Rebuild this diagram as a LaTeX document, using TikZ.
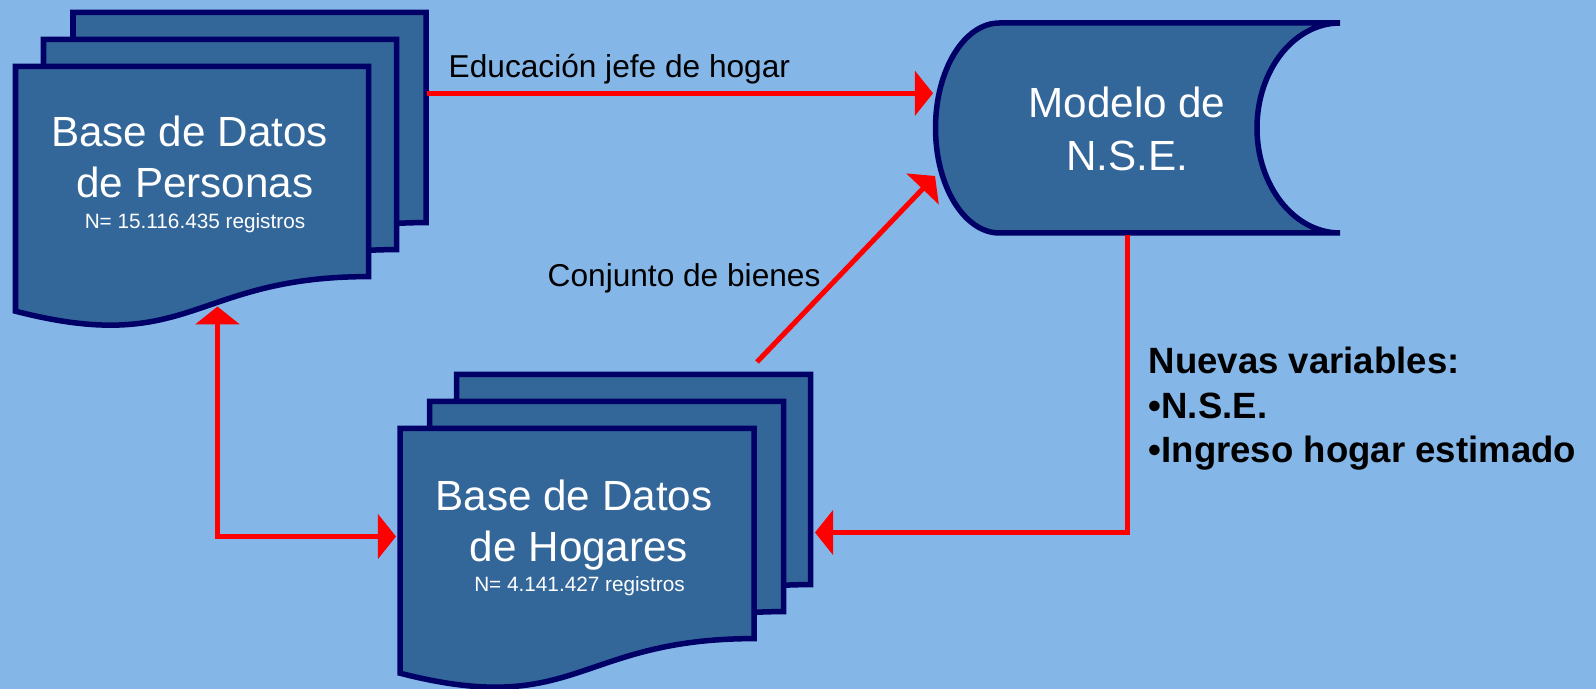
\documentclass[tikz,border=0pt]{standalone}
\usepackage{fontspec}
\setmainfont{Liberation Sans}
\usepackage{tikz}
\usetikzlibrary{arrows.meta}
\definecolor{bgblue}{RGB}{133,182,232}
\definecolor{sheetblue}{RGB}{51,102,153}
\definecolor{sheetline}{RGB}{0,0,102}
\tikzset{
  sheet/.style={draw=sheetline, fill=sheetblue, line width=0.055cm},
  redarrow/.style={draw=red, line width=0.05cm},
  redtip/.style={-{Triangle[length=0.18cm,width=0.44cm]}},
  bigtext/.style={text=white, font=\fontsize{12}{14.5}\selectfont, inner sep=0pt, anchor=base},
  smalltext/.style={text=white, font=\fontsize{5.9}{7}\selectfont, inner sep=0pt, anchor=base},
  flowtext/.style={text=black, font=\fontsize{9}{11}\selectfont, inner sep=0pt, anchor=base west},
  newvartext/.style={text=black, font=\fontsize{10.4}{12.7}\selectfont\bfseries, inner sep=0pt, anchor=base west}
}
% one sheet of a document stack: x, y of top left, width, height
\newcommand{\docsheet}[4]{ \draw[sheet] (#1,#2) -- ({#1+#3},#2) -- ({#1+#3},{#2+0.802*#4}) .. controls ({#1+0.5*#3},{#2+0.802*#4}) and ({#1+0.5*#3},{#2+1.1075*#4}) .. (#1,{#2+0.934*#4}) -- cycle;}

\begin{document}
\begin{tikzpicture}[x=0.01cm, y=-0.01cm]
        \useasboundingbox (0,0) rectangle (1596,689);
        \fill[bgblue] (0,0) rectangle (1596,689);
        % stack personas
        \docsheet{73}{12.5}{353}{262}
        \docsheet{43.5}{39.5}{353}{262}
        \docsheet{15.5}{66.5}{353}{262}
        % stack hogares
        \docsheet{456.5}{374.5}{354}{262}
        \docsheet{429.5}{401.5}{354}{262}
        \docsheet{400}{428.5}{354}{262}
        % modelo
        \draw[sheet] (999.5,23) -- (1340,23)
            .. controls (1294.2,23) and (1257,70) .. (1257,128)
            .. controls (1257,186) and (1294.2,233) .. (1340,233)
            -- (999.5,233)
            .. controls (964.2,233) and (935.5,186) .. (935.5,128)
            .. controls (935.5,70) and (964.2,23) .. (999.5,23) -- cycle;
        % texts in the shapes
        \node[bigtext] (pers1) at (189.5,147) {Base de Datos};
        \node[bigtext] (pers2) at (195,198) {de Personas};
        \node[smalltext] (persn) at (195,229) {N= 15.116.435 registros};
        \node[bigtext] (hog1) at (574,511) {Base de Datos};
        \node[bigtext] (hog2) at (579,562) {de Hogares};
        \node[smalltext] (hogn) at (579.5,592) {N= 4.141.427 registros};
        \node[bigtext] (model1) at (1127,118) {Modelo de};
        \node[bigtext] (model2) at (1127,171) {N.S.E.};
        % ends of the connectors
        \coordinate (pers-e) at (427,93.3);
        \coordinate (pers-s) at (217.5,306.5);
        \coordinate (hog-n) at (757,362);
        \coordinate (hog-w) at (396,536.5);
        \coordinate (hog-e) at (815,532.5);
        \coordinate (model-w) at (933,93.3);
        \coordinate (model-sw) at (935,176);
        \coordinate (model-s) at (1127,235);
        % connectors
        \draw[redarrow, redtip] (pers-e) -- (model-w);
        \draw[redarrow, redtip] (hog-n) -- (model-sw);
        \draw[redarrow, {Triangle[length=0.18cm,width=0.44cm]}-{Triangle[length=0.18cm,width=0.44cm]}] (pers-s) |- (hog-w);
        \draw[redarrow, redtip] (model-s) |- (hog-e);
        % labels
        \node[flowtext] (educ) at (448,78) {Educación jefe de hogar};
        \node[flowtext] (bienes) at (547,287) {Conjunto de bienes};
        \node[newvartext] (nuevas1) at (1148,374) {Nuevas variables:};
        \node[newvartext] (nuevas2) at (1148,419) {•N.S.E.};
        \node[newvartext] (nuevas3) at (1148,463) {•Ingreso hogar estimado};
\end{tikzpicture}
\end{document}
